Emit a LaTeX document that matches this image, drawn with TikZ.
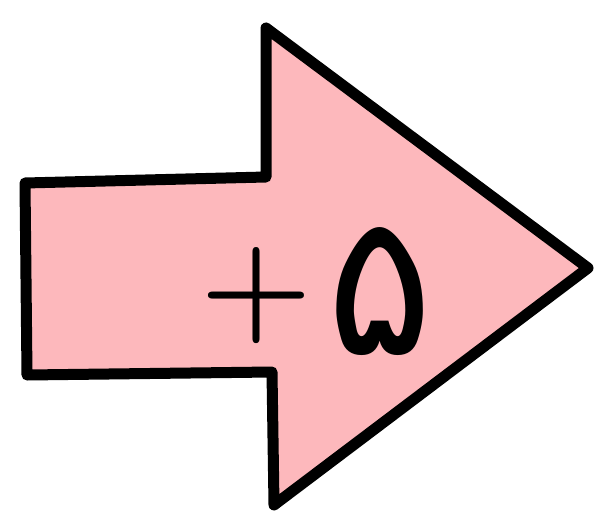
\documentclass[tikz,border=0pt]{standalone}
\usepackage{fontspec}
\newfontfamily\arabicfont[Script=Arabic]{DejaVu Sans}
\definecolor{arrowpink}{HTML}{FDB8BC}
\tikzset{
  bigarrow/.style={draw=black, line width=11pt, line join=round, fill=arrowpink},
  plustext/.style={font=\bfseries\fontsize{128}{128}\selectfont, inner sep=0pt},
  digittext/.style={font=\arabicfont\fontsize{190}{190}\selectfont, inner sep=0pt, xscale=1.05, yscale=1.04}
}
\begin{document}
\begin{tikzpicture}[x=1pt,y=1pt]
\useasboundingbox (0,0) rectangle (601,520);
\fill[white] (0,0) rectangle (601,520);
\draw[bigarrow] (25,337) -- (266,343) -- (266,492) -- (588,252) -- (274,15) -- (272,148) -- (27,145) -- cycle;
\node[plustext] (plus) at (256,224) {+};
\node[digittext] (five) at (380,228) {۵};
\end{tikzpicture}
\end{document}
